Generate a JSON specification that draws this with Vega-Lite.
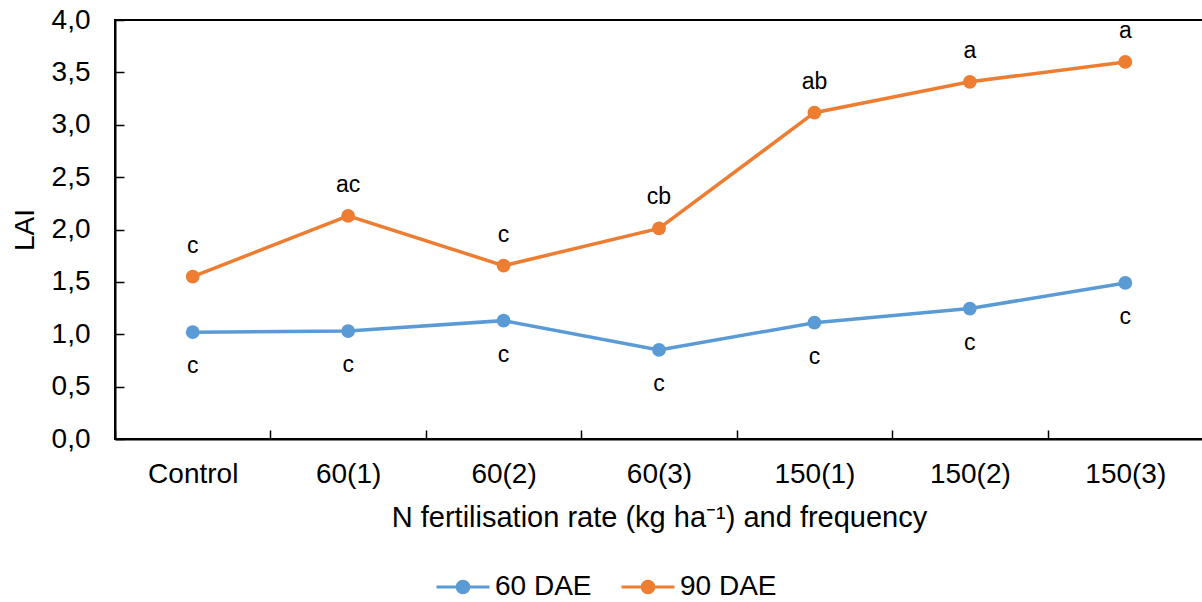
{
  "$schema": "https://vega.github.io/schema/vega-lite/v6.json",
  "width": 1088,
  "height": 419,
  "autosize": {"type": "none"},
  "padding": {"left": 115, "top": 20, "right": 0, "bottom": 163},
  "background": "white",
  "config": {
    "font": "Liberation Sans",
    "view": {"stroke": "black", "strokeWidth": 2},
    "axis": {
      "domainColor": "black",
      "domainWidth": 2,
      "tickColor": "black",
      "tickWidth": 1.5,
      "labelColor": "black",
      "titleColor": "black",
      "labelFont": "Liberation Sans",
      "titleFont": "Liberation Sans",
      "labelFontSize": 28,
      "titleFontSize": 28,
      "titleFontWeight": "normal",
      "grid": false
    },
    "legend": {
      "labelFont": "Liberation Sans",
      "labelFontSize": 28,
      "labelColor": "black"
    }
  },
  "data": {
    "values": [
      {"cat": "Control", "series": "60 DAE", "lai": 1.02, "letter": "c"},
      {"cat": "60(1)", "series": "60 DAE", "lai": 1.03, "letter": "c"},
      {"cat": "60(2)", "series": "60 DAE", "lai": 1.13, "letter": "c"},
      {"cat": "60(3)", "series": "60 DAE", "lai": 0.85, "letter": "c"},
      {"cat": "150(1)", "series": "60 DAE", "lai": 1.11, "letter": "c"},
      {"cat": "150(2)", "series": "60 DAE", "lai": 1.245, "letter": "c"},
      {"cat": "150(3)", "series": "60 DAE", "lai": 1.49, "letter": "c"},
      {"cat": "Control", "series": "90 DAE", "lai": 1.55, "letter": "c"},
      {"cat": "60(1)", "series": "90 DAE", "lai": 2.13, "letter": "ac"},
      {"cat": "60(2)", "series": "90 DAE", "lai": 1.655, "letter": "c"},
      {"cat": "60(3)", "series": "90 DAE", "lai": 2.01, "letter": "cb"},
      {"cat": "150(1)", "series": "90 DAE", "lai": 3.115, "letter": "ab"},
      {"cat": "150(2)", "series": "90 DAE", "lai": 3.41, "letter": "a"},
      {"cat": "150(3)", "series": "90 DAE", "lai": 3.6, "letter": "a"}
    ]
  },
  "encoding": {
    "x": {
      "field": "cat",
      "type": "nominal",
      "sort": ["Control", "60(1)", "60(2)", "60(3)", "150(1)", "150(2)", "150(3)"],
      "scale": {"type": "band", "paddingInner": 0, "paddingOuter": 0},
      "axis": {
        "title": "N fertilisation rate (kg ha⁻¹) and frequency",
        "titleFontSize": 29,
        "tickBand": "extent",
        "labelAngle": 0,
        "tickSize": -9,
        "labelPadding": 30,
        "titlePadding": 15
      }
    },
    "y": {
      "field": "lai",
      "type": "quantitative",
      "scale": {"domain": [0, 4], "nice": false},
      "axis": {
        "title": "LAI",
        "values": [0, 0.5, 1, 1.5, 2, 2.5, 3, 3.5, 4],
        "labelExpr": "replace(format(datum.value, '.1f'), '.', ',')",
        "tickSize": -9,
        "labelPadding": 34,
        "titlePadding": 12
      }
    }
  },
  "layer": [
    {
      "mark": {"type": "line", "strokeWidth": 3.5},
      "encoding": {
        "color": {
          "field": "series",
          "type": "nominal",
          "scale": {"domain": ["60 DAE", "90 DAE"], "range": ["#5B9BD5", "#ED7D31"]},
          "legend": {
            "title": null,
            "orient": "none",
            "direction": "horizontal",
            "legendX": 320,
            "legendY": 539,
            "padding": 0,
            "symbolType": "M-1,0L-0.22,0M0.22,0L1,0M-0.22,0A0.22,0.22,0,1,1,0.22,0A0.22,0.22,0,1,1,-0.22,0Z",
            "symbolSize": 2809,
            "symbolStrokeWidth": 3,
            "labelOffset": 4,
            "columnPadding": 23,
            "encode": {
              "symbols": {
                "update": {
                  "fill": {"scale": "color", "field": "value"},
                  "stroke": {"scale": "color", "field": "value"},
                  "strokeWidth": {"value": 3},
                  "opacity": {"value": 1}
                }
              }
            }
          }
        }
      }
    },
    {
      "mark": {"type": "point", "filled": true, "size": 190, "opacity": 1},
      "encoding": {
        "color": {"field": "series", "type": "nominal", "legend": null}
      }
    },
    {
      "transform": [{"filter": "datum.series === '90 DAE'"}],
      "mark": {"type": "text", "dy": -31, "fontSize": 23, "color": "black", "font": "Liberation Sans"},
      "encoding": {"text": {"field": "letter"}}
    },
    {
      "transform": [{"filter": "datum.series === '60 DAE'"}],
      "mark": {"type": "text", "dy": 34, "fontSize": 23, "color": "black", "font": "Liberation Sans"},
      "encoding": {"text": {"field": "letter"}}
    }
  ]
}
